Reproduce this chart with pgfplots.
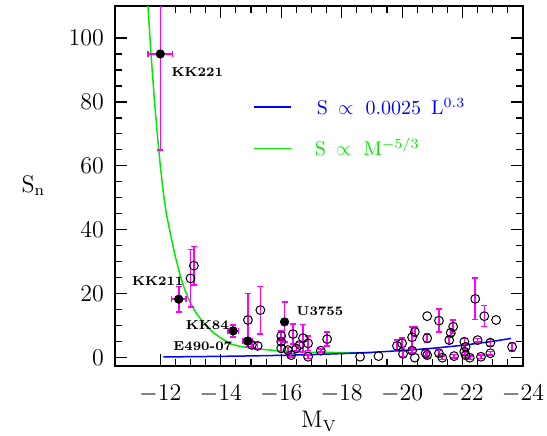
\documentclass[border=0pt]{standalone}
\usepackage{pgfplots}
\pgfplotsset{compat=1.18}
\definecolor{pmag}{RGB}{255,0,255}
\definecolor{pgreen}{RGB}{0,235,0}
\definecolor{pblue}{RGB}{0,0,255}
\begin{document}
\begin{tikzpicture}
\useasboundingbox (-57.5pt,-34.65pt) rectangle (216pt,182.85pt);
\begin{axis}[at={(0pt,0pt)}, anchor=south west, scale only axis,
  width=204pt, height=179.85pt,
  x dir=reverse, xmin=-24, xmax=-10.5, ymin=-2.5, ymax=110,
  xtick={-24,-22,...,-12}, ytick={0,20,...,100},
  minor x tick num=3, minor y tick num=3,
  tick align=inside, major tick length=6pt, minor tick length=3.5pt,
  axis line style={line width=0.9pt},
  every tick/.style={black, line width=0.6pt},
  tick label style={font=\fontsize{11.5}{13}\selectfont},
  x tick label style={yshift=-6pt},
  y tick label style={xshift=-2pt},
  xlabel={$\mathrm{M_V}$}, ylabel={$\mathrm{S_n}$},
  label style={font=\fontsize{11.5}{13}\selectfont},
  x label style={at={(axis description cs:0.5,-0.155)}, anchor=center},
  y label style={at={(axis description cs:-0.2,0.5)}, anchor=center, rotate=-90},
  clip=true,
  error bars/error bar style={draw=pmag, line width=0.8pt, solid},
  error bars/error mark options={draw=pmag, rotate=90, mark size=1.5pt, line width=0.8pt},
]
% model curves
\addplot[draw=pgreen, line width=0.75pt] coordinates {
(-11.59,110) (-11.7,94) (-11.8,81) (-11.9,70) (-12.0,60) (-12.1,51.5) (-12.2,45)
(-12.35,38) (-12.5,31.5) (-12.65,26) (-12.8,21.5) (-13.0,17) (-13.2,13.8) (-13.4,11.3)
(-13.6,9.2) (-13.8,7.5) (-14.0,6.2) (-14.3,4.4) (-14.6,3.6) (-15.0,3.0) (-15.5,2.5)
(-16.0,2.1) (-16.5,1.9) (-17.0,1.7) (-18.0,1.6) (-19.0,1.5)
};
\addplot[draw=pblue, line width=0.75pt] coordinates {
(-12.1,0.25) (-13,0.32) (-14,0.43) (-15,0.56) (-16,0.74) (-17,0.97) (-18,1.28)
(-19,1.69) (-20,2.23) (-21,2.94) (-22,3.88) (-23,5.12) (-23.6,6.03)
};
% open points with error bars
\addplot[only marks, mark=o, mark size=2.2pt, mark options={draw=black, line width=0.5pt},
  error bars/.cd, y dir=both, y explicit] coordinates {
(-13.0,24.8) +- (0,9)
(-13.11,28.8) +- (0,6)
(-14.9,11.8) +- (0,8.3)
(-15.31,14.9) +- (0,7.4)
(-15.03,4.0) +- (0,1.0)
(-15.22,3.7) +- (0,1.0)
(-16.0,6.8) +- (0,1.5)
(-16.0,5.0) +- (0,1.2)
(-16.0,2.9) +- (0,1.0)
(-16.39,7.4) +- (0,3.2)
(-16.72,6.1) +- (0,4.3)
(-16.61,4.0) +- (0,0.8)
(-16.5,2.9) +- (0,0.8)
(-16.33,0.8) +- (0,0.5)
(-16.22,2.4) +- (0,0.8)
(-16.89,4.5) +- (0,2.2)
(-16.89,0.3) +- (0,0.5)
(-17.31,2.2) +- (0,0.5)
(-17.52,5.8) +- (0,2.2)
(-19.83,3.7) +- (0,1.8)
(-20.0,4.5) +- (0,1.6)
(-20.03,1.2) +- (0,0.8)
(-20.33,6.4) +- (0,3.2)
(-20.42,8.1) +- (0,1.5)
(-20.33,2.2) +- (0,0.8)
(-20.83,6.1) +- (0,1.3)
(-20.78,1.4) +- (0,0.8)
(-20.83,0.8) +- (0,0.8)
(-21.22,11.6) +- (0,3.6)
(-21.22,1.4) +- (0,0.8)
(-21.33,0.0) +- (0,0.5)
(-21.61,7.8) +- (0,1.0)
(-21.56,5.5) +- (0,1.0)
(-21.69,9.7) +- (0,2.1)
(-21.72,0.5) +- (0,0.5)
(-22.06,5.0) +- (0,1.0)
(-22.1,3.4) +- (0,1.0)
(-22.06,1.9) +- (0,1.0)
(-22.1,0.8) +- (0,0.8)
(-22.24,0.0) +- (0,0.5)
(-22.5,5.5) +- (0,0.5)
(-22.61,0.3) +- (0,0.5)
(-22.42,18.4) +- (0,6.5)
(-22.72,13.0) +- (0,3.3)
(-22.92,4.7) +- (0,1.0)
(-22.92,1.4) +- (0,0.5)
(-23.64,3.4) +- (0,1.3)
};
% open points without error bars
\addplot[only marks, mark=o, mark size=2.2pt, mark options={draw=black, line width=0.5pt}] coordinates {
(-18.61,0.3) (-19.22,0.5) (-20.42,0.0) (-20.83,13.0) (-23.11,11.8)
};
% named filled points
\addplot[only marks, mark=*, mark size=2.1pt, mark options={draw=black, fill=black},
  error bars/.cd, x dir=both, x explicit, y dir=both, y explicit] coordinates {
(-12.0,95) +- (0.4,30)
(-12.61,18.3) +- (0.24,4)
(-14.41,8.4) +- (0.18,1.9)
(-14.89,5.2) +- (0.15,1.0)
(-16.11,11.2) +- (0.1,6.3)
};
% labels
\node[anchor=west, inner sep=0pt, font=\fontsize{6.5}{8}\selectfont\bfseries] at (axis cs:-12.36,89.5) {KK221};
\node[anchor=west, inner sep=0pt, font=\fontsize{6.5}{8}\selectfont\bfseries] at (axis cs:-11.05,24.0) {KK211};
\node[anchor=west, inner sep=0pt, font=\fontsize{6.5}{8}\selectfont\bfseries] at (axis cs:-12.83,10.2) {KK84};
\node[anchor=west, inner sep=0pt, font=\fontsize{6.5}{8}\selectfont\bfseries] at (axis cs:-12.42,3.6) {E490-07};
\node[anchor=west, inner sep=0pt, font=\fontsize{6.5}{8}\selectfont\bfseries] at (axis cs:-16.5,14.6) {U3755};
% legend
\draw[draw=pblue, line width=0.8pt] (axis cs:-15.1,78.4) -- (axis cs:-16.33,78.4);
\draw[draw=pgreen, line width=0.8pt] (axis cs:-15.1,65.4) -- (axis cs:-16.33,65.4);
\node[anchor=west, inner sep=0pt, text=pblue, font=\fontsize{10}{12}\selectfont] at (axis cs:-17.17,78.4) {S\hspace{5pt}$\propto$\hspace{6pt}0.0025\hspace{5pt}L$^{0.3}$};
\node[anchor=west, inner sep=0pt, text=pgreen, font=\fontsize{10}{12}\selectfont] at (axis cs:-17.1,65.9) {S\hspace{5pt}$\propto$\hspace{6pt}M$^{-5/3}$};
\end{axis}
\end{tikzpicture}
\end{document}
